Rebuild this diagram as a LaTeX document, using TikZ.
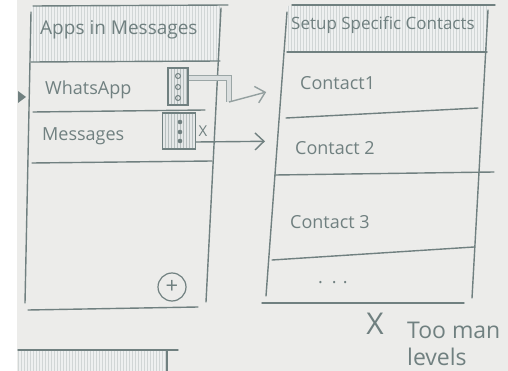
\documentclass[tikz,border=0pt]{standalone}
\usepackage{fontspec}
\setmainfont{Open Sans}
\usetikzlibrary{arrows.meta,patterns}
\definecolor{pencil}{RGB}{112,128,128}
\definecolor{paper}{RGB}{236,236,234}

\begin{document}
\begin{tikzpicture}[
    x=1pt,
    y=-1pt,
    rule/.style={
        draw=pencil,
        line width=1.4pt,
        line cap=round
    },
    shade/.style={
        preaction={fill=pencil!12},
        pattern=vertical lines,
        pattern color=pencil!32
    },
    title/.style={
        text=pencil,
        inner sep=0pt,
        anchor=west,
        font=\fontsize{18}{20}\selectfont
    },
    rowtext/.style={
        text=pencil,
        inner sep=0pt,
        anchor=west,
        font=\fontsize{18}{20}\selectfont
    },
    note/.style={
        text=pencil,
        inner sep=0pt,
        anchor=west,
        font=\fontsize{23}{25}\selectfont
    },
    toggle/.style={
        draw=pencil,
        line width=1.2pt,
        preaction={fill=pencil!18},
        pattern=vertical lines,
        pattern color=pencil!50,
        inner sep=0pt
    },
    flow/.style={-{Straight Barb[length=9pt,width=17pt]}, pencil, line width=1.4pt},
    pipe/.style={draw=pencil!70, line width=1.1pt, double=pencil!25, double distance=4pt}
]

\useasboundingbox (0,0) rectangle (508,371);
\fill[paper] (0,0) rectangle (508,371);

% left screen
\path[shade] (31,6) -- (221,6) -- (219,61) -- (31,62) -- cycle;
\draw[rule] (33,6) -- (228,5);
\draw[rule] (31,12) -- (25,303);
\draw[rule] (221,8) -- (206,302);
\draw[rule] (31,62) -- (220,61);
\draw[rule] (33,112) -- (205,110);
\draw[rule] (32,163) -- (212,161);
\draw[rule] (28,310) -- (198,307);

\node[title, font=\fontsize{19}{21}\selectfont] (apps) at (40,30) {Apps in Messages};
\node[rowtext] (whatsapp) at (45,90) {WhatsApp};
\node[rowtext] (messages) at (42,136) {Messages};

\node[toggle, minimum width=20pt, minimum height=37pt] (watgl) at (178,86.5) {};
\draw[pencil, line width=1pt] (178,76) circle (2.5);
\draw[pencil, line width=1pt] (178,87) circle (2.5);
\draw[pencil, line width=1pt] (178,98) circle (2.5);

\node[toggle, minimum width=33pt, minimum height=36pt] (msgtgl) at (179,131) {};
\fill[pencil] (180,122) circle (2.3);
\fill[pencil] (180,132) circle (2.3);
\fill[pencil] (180,141) circle (2.3);
\node[text=pencil, inner sep=0pt, font=\fontsize{15}{15}\selectfont] (xoff) at (203,131) {X};

\node[draw=pencil, circle, line width=1.2pt, minimum size=28pt, inner sep=0pt,
    text=pencil, font=\fontsize{22}{22}\selectfont] (addbtn) at (172,287) {+};

% arrow coming in from the left
\fill[pencil] (18,91) -- (26,97) -- (18,103) -- cycle;

% right screen
\path[shade] (287,6) -- (488,6) -- (487,52) -- (287,52) -- cycle;
\draw[rule] (292,5) -- (495,5);
\draw[rule] (287,12) -- (266,296);
\draw[rule] (488,10) -- (472,298);
\draw[rule] (287,52) -- (487,52);
\draw[rule] (286,118) -- (478,108);
\draw[rule] (275,175) -- (494,172);
\draw[rule] (272,260) -- (474,247);
\draw[rule] (262,303) -- (464,303);

\node[title, font=\fontsize{17}{19}\selectfont] (setup) at (291,25) {Setup Specific Contacts};
\node[rowtext] (contact1) at (300,83) {Contact1};
\node[rowtext] (contact2) at (295,148) {Contact 2};
\node[rowtext] (contact3) at (290,222) {Contact 3};
\node[rowtext] (more) at (318,283) {.\,\,\,.\,\,.};

% connectors
\coordinate (wabend) at (229,78);
\coordinate (wadrop) at (229,102);
\draw[pipe] (watgl.east |- wabend) -- (wabend) -- (wadrop);
\draw[flow, pencil!75, shorten >=35pt] (wadrop) -- (contact1.west);
\draw[flow, shorten >=30pt] ([yshift=-11pt]msgtgl.east) -- ([yshift=7pt]contact2.west);

% verdict
\node[text=pencil, inner sep=0pt, font=\fontsize{30}{30}\selectfont] (nope) at (375,324) {X};
\node[note] (tooman) at (407,330) {Too man};
\node[note] (levels) at (407,357) {levels};

% next screen, cut off
\path[shade] (18,350) rectangle (167,371);
\draw[rule] (18,350) -- (178,350);
\draw[rule] (167,350) -- (167,371);

\fill[white] (0,0) rectangle (17,371);

\end{tikzpicture}
\end{document}
